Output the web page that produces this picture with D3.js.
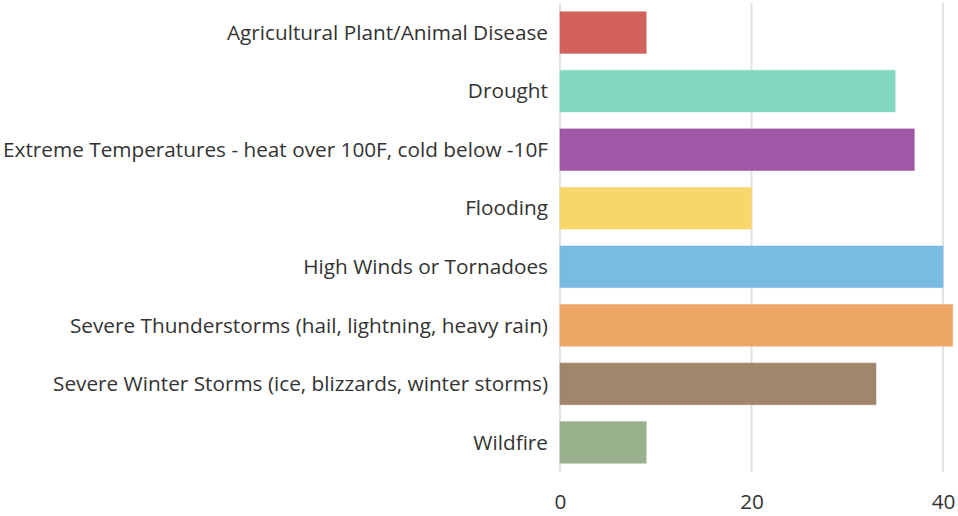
<!DOCTYPE html>
<html><head><meta charset="utf-8">
<script src="https://cdn.jsdelivr.net/npm/d3@7"></script>
<style>body{margin:0;background:#fff;} svg{display:block;}</style>
</head><body>
<script>
const categories = [
  "Agricultural Plant/Animal Disease",
  "Drought",
  "Extreme Temperatures - heat over 100F, cold below -10F",
  "Flooding",
  "High Winds or Tornadoes",
  "Severe Thunderstorms (hail, lightning, heavy rain)",
  "Severe Winter Storms (ice, blizzards, winter storms)",
  "Wildfire"
];
const values = [9, 35, 37, 20, 40, 41, 33, 9];
const colors = ["#d05a52", "#7ed6bd", "#9c4ea0", "#f8d463", "#72b8e0", "#eda15c", "#9c7f63", "#93ad87"];
const tickValues = [0, 20, 40];

const W = 958, H = 516;
const m = {top: 3, right: 5, bottom: 44, left: 560};
const svg = d3.select("body").append("svg").attr("width", W).attr("height", H);
const x = d3.scaleLinear().domain([0, 40]).range([m.left, 943]);
const y = d3.scaleBand().domain(categories).range([m.top, H - m.bottom]).paddingInner(0.29).paddingOuter(0.15);

const font = "'Open Sans', 'Noto Sans', sans-serif";
svg.append("g").selectAll("line").data(tickValues).join("line")
  .attr("x1", d => x(d)).attr("x2", d => x(d))
  .attr("y1", m.top).attr("y2", H - m.bottom)
  .attr("stroke", "#e2e2e2").attr("stroke-width", 2);

svg.append("g").selectAll("rect").data(categories).join("rect")
  .attr("x", x(0)).attr("y", d => y(d))
  .attr("width", (d, i) => x(values[i]) - x(0))
  .attr("height", y.bandwidth())
  .attr("fill", (d, i) => colors[i]).attr("fill-opacity", 0.95)
  .attr("stroke", (d, i) => colors[i]).attr("stroke-opacity", 0.5).attr("stroke-width", 1);

const labels = svg.append("g").selectAll("text").data(categories).join("text")
  .attr("x", m.left - 12).attr("y", d => y(d) + y.bandwidth() / 2)
  .attr("dy", "0.35em").attr("text-anchor", "end")
  .attr("font-family", font).attr("font-size", 18).attr("fill", "#333")
  .text(d => d);
// fit font size so the longest label spans the same width as in the reference
let maxW = 0;
labels.each(function(){ maxW = Math.max(maxW, this.getComputedTextLength()); });
const fs = 18 * 545 / maxW;
labels.attr("font-size", fs);

const xAxis = d3.axisBottom(x).tickValues(tickValues).tickSize(0).tickPadding(0);
const gx = svg.append("g").attr("transform", `translate(0,${H - 7})`).call(xAxis);
gx.select(".domain").remove();
gx.selectAll("text").attr("font-family", font).attr("font-size", fs).attr("fill", "#333").attr("dy", "0").attr("y", 0);
</script>
</body></html>
